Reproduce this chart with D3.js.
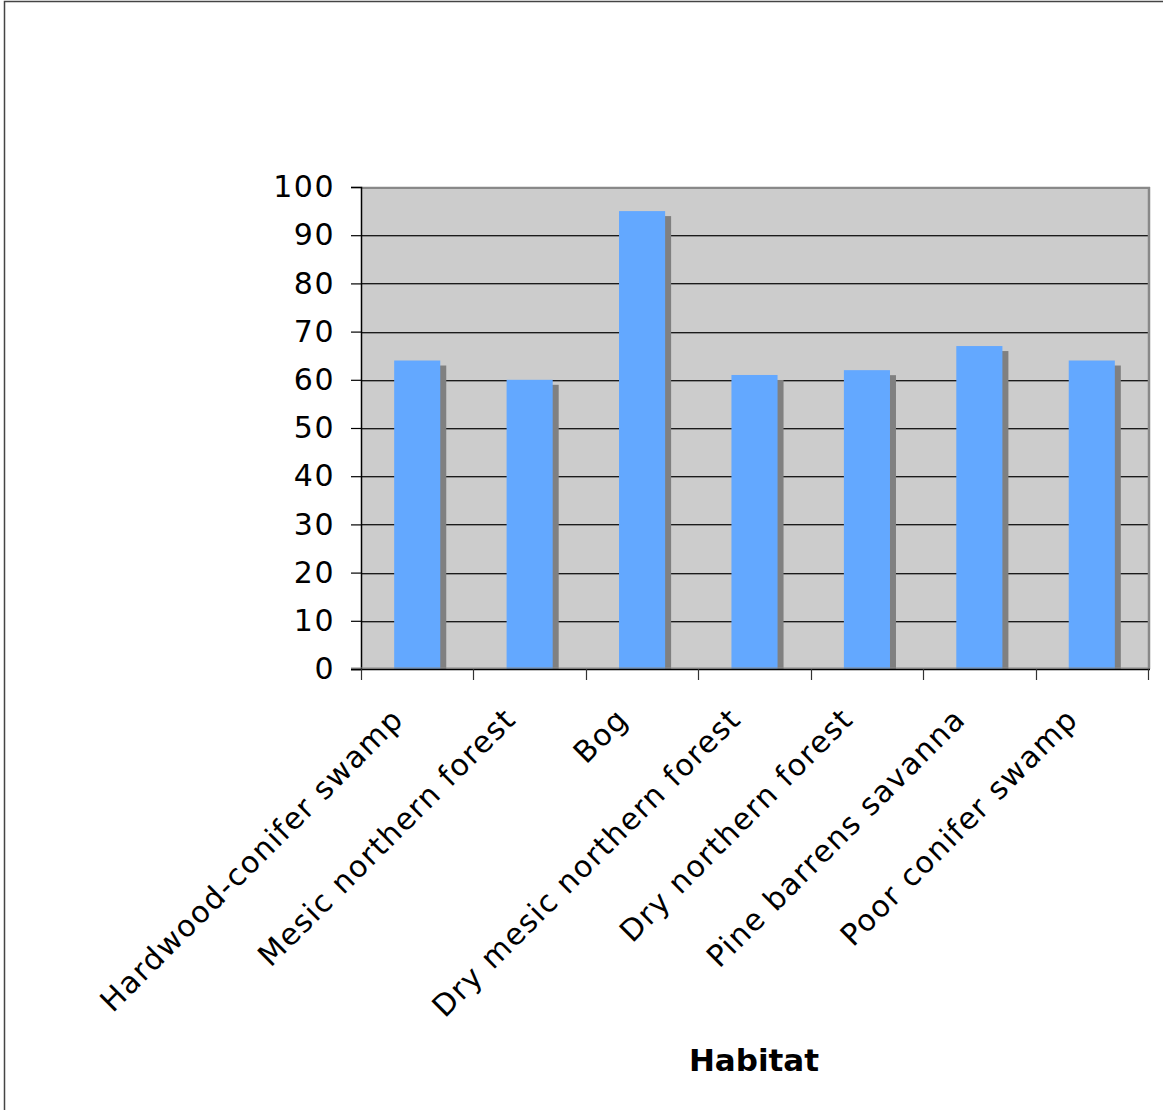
<!DOCTYPE html>
<html>
<head>
<meta charset="utf-8">
<script src="https://cdn.jsdelivr.net/npm/d3@7"></script>
<style>
  html, body { margin: 0; padding: 0; background: #fff; }
  svg { display: block; }
  text { font-family: Verdana, "DejaVu Sans", sans-serif; fill: #000; }
</style>
</head>
<body>
<svg id="chart" width="1163" height="1110"></svg>
<script>
// Habitat categories and their values
const categories = [
  "Hardwood-conifer swamp",
  "Mesic northern forest",
  "Bog",
  "Dry mesic northern forest",
  "Dry northern forest",
  "Pine barrens savanna",
  "Poor conifer swamp"
];
const values = [64, 60, 95, 61, 62, 67, 64];
const yTicks = [0, 10, 20, 30, 40, 50, 60, 70, 80, 90, 100];
const xTitle = "Habitat";

const svg = d3.select("#chart");
const W = 1163, H = 1110;

// outer frame
svg.append("rect")
  .attr("x", 4.5).attr("y", 1.5)
  .attr("width", W + 10).attr("height", H + 10)
  .attr("fill", "none").attr("stroke", "#444").attr("stroke-width", 1.5);

const plot = { left: 361, top: 187, right: 1148, bottom: 669 };

const x = d3.scaleBand()
  .domain(categories)
  .range([plot.left, plot.right])
  .paddingInner(0.59)
  .paddingOuter(0.295);

const y = d3.scaleLinear().domain([0, 100]).range([plot.bottom, plot.top]);

// plot background
svg.append("rect")
  .attr("x", plot.left).attr("y", plot.top)
  .attr("width", plot.right - plot.left).attr("height", plot.bottom - plot.top)
  .attr("fill", "#cccccc");

// gridlines
const grid = svg.append("g");
yTicks.filter(d => d > 0).forEach(t => {
  grid.append("line")
    .attr("x1", plot.left).attr("x2", plot.right)
    .attr("y1", Math.round(y(t)) + 1.5).attr("y2", Math.round(y(t)) + 1.5)
    .attr("stroke", "#8a8a8a").attr("stroke-width", 1);
  grid.append("line")
    .attr("x1", plot.left).attr("x2", plot.right)
    .attr("y1", Math.round(y(t)) + 0.5).attr("y2", Math.round(y(t)) + 0.5)
    .attr("stroke", "#1a1a1a").attr("stroke-width", 1.2);
});

// right edge of plot area
svg.append("line")
  .attr("x1", plot.right + 1).attr("x2", plot.right + 1)
  .attr("y1", plot.top).attr("y2", plot.bottom)
  .attr("stroke", "#888").attr("stroke-width", 2.5);
// top edge
svg.append("line")
  .attr("x1", plot.left).attr("x2", plot.right + 2)
  .attr("y1", plot.top + 0.5).attr("y2", plot.top + 0.5)
  .attr("stroke", "#888").attr("stroke-width", 1.5);

// bar shadows
const shadowDx = 6, shadowDy = 5;
svg.append("g").selectAll("rect")
  .data(values)
  .join("rect")
  .attr("x", (d, i) => x(categories[i]) + shadowDx)
  .attr("y", d => y(d) + shadowDy)
  .attr("width", x.bandwidth())
  .attr("height", d => plot.bottom - y(d) - shadowDy)
  .attr("fill", "#808080");

// bars
svg.append("g").selectAll("rect")
  .data(values)
  .join("rect")
  .attr("x", (d, i) => x(categories[i]))
  .attr("y", d => y(d))
  .attr("width", x.bandwidth())
  .attr("height", d => plot.bottom - y(d))
  .attr("fill", "#63a8ff");

// y axis
const yAxis = svg.append("g")
  .attr("transform", `translate(${plot.left},0)`)
  .call(d3.axisLeft(y).tickValues(yTicks).tickSize(10).tickPadding(16).tickFormat(d3.format("d")));
yAxis.select(".domain").attr("stroke", "#000").attr("stroke-width", 1.5);
yAxis.selectAll(".tick line").attr("stroke", "#000").attr("stroke-width", 1.2);
yAxis.selectAll("text")
  .style("font-size", "30px")
  .style("letter-spacing", "1.5px")
  .attr("fill", "#000");

// x axis with ticks at band boundaries
const xAxisG = svg.append("g");
xAxisG.append("line")
  .attr("x1", plot.left - 10).attr("x2", plot.right + 2)
  .attr("y1", plot.bottom - 1).attr("y2", plot.bottom - 1)
  .attr("stroke", "#888").attr("stroke-width", 1);
xAxisG.append("line")
  .attr("x1", plot.left - 10).attr("x2", plot.right + 2)
  .attr("y1", plot.bottom + 0.5).attr("y2", plot.bottom + 0.5)
  .attr("stroke", "#000").attr("stroke-width", 1.5);
const step = x.step();
const bounds = d3.range(categories.length + 1).map(i => plot.left + i * step);
xAxisG.selectAll("line.tk")
  .data(bounds)
  .join("line")
  .attr("class", "tk")
  .attr("x1", d => Math.round(d) + 0.5).attr("x2", d => Math.round(d) + 0.5)
  .attr("y1", plot.bottom).attr("y2", plot.bottom + 11)
  .attr("stroke", "#333").attr("stroke-width", 1.2);

// rotated category labels
svg.append("g").selectAll("text")
  .data(categories)
  .join("text")
  .attr("transform", d => `translate(${x(d) + x.bandwidth() / 2 - 12},${plot.bottom + 52}) rotate(-45)`)
  .attr("text-anchor", "end")
  .style("font-size", "30px")
  .style("letter-spacing", "1.4px")
  .text(d => d);

// x axis title
svg.append("text")
  .attr("x", 754).attr("y", 1071)
  .attr("text-anchor", "middle")
  .style("font-size", "31px")
  .style("font-weight", "bold")
  .text(xTitle);
</script>
</body>
</html>
